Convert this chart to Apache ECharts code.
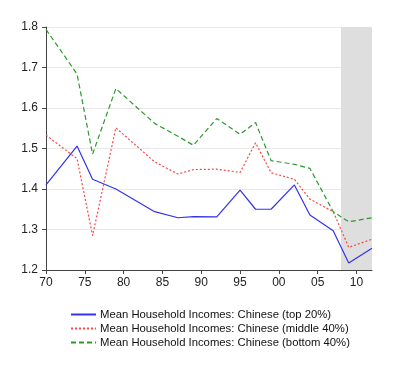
<!DOCTYPE html>
<html>
<head>
<meta charset="utf-8">
<script src="https://cdn.jsdelivr.net/npm/echarts@6/dist/echarts.min.js"></script>
<style>html,body{margin:0;padding:0;background:#fff}#c{width:400px;height:373px}</style>
</head>
<body>
<div id="c"></div>
<script>
var years = [1970,1974,1976,1979,1984,1987,1989,1992,1995,1997,1999,2002,2004,2007,2009,2012];
var top20 = [1.410,1.506,1.424,1.400,1.344,1.329,1.332,1.331,1.397,1.350,1.350,1.410,1.336,1.297,1.217,1.254];
var middle40 = [1.533,1.475,1.285,1.551,1.467,1.437,1.448,1.449,1.441,1.514,1.440,1.424,1.375,1.344,1.256,1.276];
var bottom40 = [1.794,1.684,1.486,1.648,1.562,1.530,1.508,1.574,1.535,1.564,1.470,1.461,1.451,1.344,1.319,1.329];
var seriesNames = ['Mean Household Incomes: Chinese (top 20%)','Mean Household Incomes: Chinese (middle 40%)','Mean Household Incomes: Chinese (bottom 40%)'];
var shadeRange = [2008, 2012];

function pairs(v){ return years.map(function(y,i){ return [y, v[i]]; }); }

var chart = echarts.init(document.getElementById('c'), null, {renderer:'canvas'});
var font = 'Liberation Sans, Arial, sans-serif';
chart.setOption({
  animation:false,
  grid:{left:46, right:28, top:27, bottom:103},
  xAxis:{type:'value', min:1970, max:2012, interval:5,
    axisLine:{lineStyle:{color:'#444', width:1}},
    axisTick:{show:true, length:4, lineStyle:{color:'#444'}},
    axisLabel:{color:'#222', fontFamily:font, fontSize:12, margin:7, showMaxLabel:false,
      formatter:function(v){ return v % 5 === 0 ? String(v % 100).padStart(2,'0') : ''; }},
    splitLine:{show:false}},
  yAxis:{type:'value', min:1.2, max:1.8, interval:0.1,
    axisLine:{show:true, lineStyle:{color:'#444', width:1}},
    axisTick:{show:true, length:4, lineStyle:{color:'#444'}},
    axisLabel:{color:'#222', fontFamily:font, fontSize:12, margin:8,
      formatter:function(v){ return v.toFixed(1); }},
    splitLine:{show:true, lineStyle:{color:'#e8e8e8', width:1}}},
  legend:{orient:'vertical', left:65, top:304, itemWidth:25, itemHeight:10, itemGap:3, padding:5,
    itemStyle:{opacity:0},
    textStyle:{fontFamily:font, fontSize:11.3, color:'#111', lineHeight:10, padding:[0,0,0,-1]},
    data:seriesNames},
  series:[
    {name:seriesNames[0], type:'line', data:pairs(top20), symbol:'none',
     lineStyle:{color:'#3333ee', width:1.2, type:'solid'}, itemStyle:{color:'#3333ee'},
     markArea:{silent:true, itemStyle:{color:'#dedede'}, data:[[{xAxis:shadeRange[0]},{xAxis:shadeRange[1]}]]}, z:3},
    {name:seriesNames[1], type:'line', data:pairs(middle40), symbol:'none',
     lineStyle:{color:'#ff4444', width:1.2, type:[2,2]}, itemStyle:{color:'#ff4444'}, z:3},
    {name:seriesNames[2], type:'line', data:pairs(bottom40), symbol:'none',
     lineStyle:{color:'#2e9a2e', width:1.2, type:[5,3]}, itemStyle:{color:'#2e9a2e'}, z:3}
  ]
});
</script>
</body>
</html>
